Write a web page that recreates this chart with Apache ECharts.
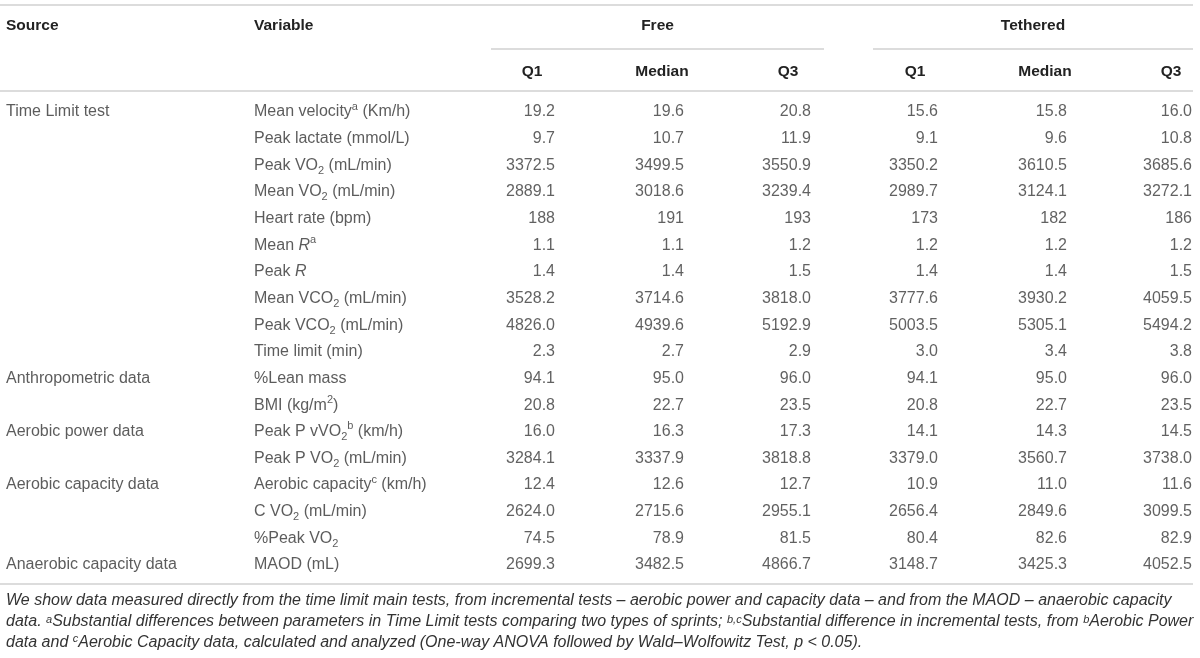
<!DOCTYPE html>
<html>
<head>
<meta charset="utf-8">
<script src="https://cdn.jsdelivr.net/npm/echarts@6/dist/echarts.min.js"></script>
<style>
  html, body { margin: 0; padding: 0; background: #fff; }
  #table { width: 1200px; height: 658px; }
</style>
</head>
<body>
<div id="table"></div>
<script>
const sources = ['Time Limit test', '', '', '', '', '', '', '', '', '',
  'Anthropometric data', '', 'Aerobic power data', '', 'Aerobic capacity data', '', '', 'Anaerobic capacity data'];

const variables = [
  'Mean velocity{sup|a} (Km/h)',
  'Peak lactate (mmol/L)',
  'Peak VO{sub|2} (mL/min)',
  'Mean VO{sub|2} (mL/min)',
  'Heart rate (bpm)',
  'Mean {it|R}{sup|a}',
  'Peak {it|R}',
  'Mean VCO{sub|2} (mL/min)',
  'Peak VCO{sub|2} (mL/min)',
  'Time limit (min)',
  '%Lean mass',
  'BMI (kg/m{sup|2})',
  'Peak P vVO{sub|2}{sup|b} (km/h)',
  'Peak P VO{sub|2} (mL/min)',
  'Aerobic capacity{sup|c} (km/h)',
  'C VO{sub|2} (mL/min)',
  '%Peak VO{sub|2}',
  'MAOD (mL)'
];

const decimals = [1, 1, 1, 1, 0, 1, 1, 1, 1, 1, 1, 1, 1, 1, 1, 1, 1, 1];

const freeQ1 = [19.2, 9.7, 3372.5, 2889.1, 188, 1.1, 1.4, 3528.2, 4826.0, 2.3, 94.1, 20.8, 16.0, 3284.1, 12.4, 2624.0, 74.5, 2699.3];
const freeMedian = [19.6, 10.7, 3499.5, 3018.6, 191, 1.1, 1.4, 3714.6, 4939.6, 2.7, 95.0, 22.7, 16.3, 3337.9, 12.6, 2715.6, 78.9, 3482.5];
const freeQ3 = [20.8, 11.9, 3550.9, 3239.4, 193, 1.2, 1.5, 3818.0, 5192.9, 2.9, 96.0, 23.5, 17.3, 3818.8, 12.7, 2955.1, 81.5, 4866.7];
const tethQ1 = [15.6, 9.1, 3350.2, 2989.7, 173, 1.2, 1.4, 3777.6, 5003.5, 3.0, 94.1, 20.8, 14.1, 3379.0, 10.9, 2656.4, 80.4, 3148.7];
const tethMedian = [15.8, 9.6, 3610.5, 3124.1, 182, 1.2, 1.4, 3930.2, 5305.1, 3.4, 95.0, 22.7, 14.3, 3560.7, 11.0, 2849.6, 82.6, 3425.3];
const tethQ3 = [16.0, 10.8, 3685.6, 3272.1, 186, 1.2, 1.5, 4059.5, 5494.2, 3.8, 96.0, 23.5, 14.5, 3738.0, 11.6, 3099.5, 82.9, 4052.5];

const groupLabels = ['Free', 'Tethered'];
const statLabels = ['Q1', 'Median', 'Q3'];

const footnote = [
  'We show data measured directly from the time limit main tests, from incremental tests – aerobic power and capacity data – and from the MAOD – anaerobic capacity',
  'data. {sup|a}Substantial differences between parameters in Time Limit tests comparing two types of sprints; {sup|b,c}Substantial difference in incremental tests, from {sup|b}Aerobic Power',
  'data and {sup|c}Aerobic Capacity data, calculated and analyzed (One-way ANOVA followed by Wald–Wolfowitz Test, {it|p} < 0.05).'
];

// layout
const font = "'Liberation Sans', Arial, sans-serif";
const textColor = '#333';
const numColor = '#3a3a3a';
const ruleColor = '#dcdcdc';
const sourceX = 6;
const variableX = 254;
const valueRight = [555, 684, 811, 938, 1067, 1192];
const headerCenter = [532, 662, 788, 915, 1045, 1171];
const groupLines = [[491, 824], [873, 1193]];

const chart = echarts.init(document.getElementById('table'), null, { renderer: 'canvas' });

const rich = {
  sup: { fontSize: 11, verticalAlign: 'top', lineHeight: 11, fontFamily: font, color: textColor },
  sub: { fontSize: 11, verticalAlign: 'bottom', lineHeight: 11, fontFamily: font, color: textColor },
  it: { fontStyle: 'italic', fontSize: 16, lineHeight: 22, fontFamily: font, color: textColor }
};

const textSeries = (x, texts, align, color) => ({
  type: 'scatter',
  symbolSize: 0,
  silent: true,
  animation: false,
  data: texts.map((t, i) => ({ value: [x, i], name: String(t) })),
  label: {
    show: true,
    position: align === 'right' ? 'left' : 'right',
    distance: 0,
    formatter: (p) => p.name,
    fontFamily: font,
    fontSize: 16,
    lineHeight: 22,
    color: color,
    rich: rich
  }
});

const valueCols = [freeQ1, freeMedian, freeQ3, tethQ1, tethMedian, tethQ3];

const graphic = [];
// rules
[[0, 1193, 5], [0, 1193, 91], [0, 1193, 584]].forEach(([x1, x2, y]) => {
  graphic.push({ type: 'line', silent: true, shape: { x1, y1: y, x2, y2: y }, style: { stroke: ruleColor, lineWidth: 2 } });
});
groupLines.forEach(([x1, x2]) => {
  graphic.push({ type: 'line', silent: true, shape: { x1, y1: 49, x2, y2: 49 }, style: { stroke: ruleColor, lineWidth: 2 } });
});

const headerText = (text, x, y, align) => ({
  type: 'text', silent: true, x, y,
  style: { text, font: `bold 15.5px ${font}`, fill: '#222', textAlign: align, textVerticalAlign: 'middle' }
});
graphic.push(headerText('Source', sourceX, 26, 'left'));
graphic.push(headerText('Variable', variableX, 26, 'left'));
groupLabels.forEach((g, i) => {
  graphic.push(headerText(g, (groupLines[i][0] + groupLines[i][1]) / 2, 26, 'center'));
});
headerCenter.forEach((x, i) => {
  graphic.push(headerText(statLabels[i % 3], x, 72, 'center'));
});

footnote.forEach((line, i) => {
  graphic.push({
    type: 'text', silent: true, x: 6, y: 601 + i * 21,
    style: {
      text: line,
      font: `italic 16px ${font}`,
      fill: '#333',
      textVerticalAlign: 'middle',
      rich: {
        sup: { fontSize: 11, fontStyle: 'italic', verticalAlign: 'top', lineHeight: 11, fontFamily: font, fill: '#333' },
        it: { fontSize: 16, fontStyle: 'italic', lineHeight: 20, fontFamily: font, fill: '#333' }
      }
    }
  });
});

chart.setOption({
  animation: false,
  grid: { left: 0, right: 0, top: 98.7, bottom: 79.7 },
  xAxis: { type: 'value', min: 0, max: 1200, show: false },
  yAxis: {
    type: 'category',
    inverse: true,
    data: variables.map((_, i) => String(i)),
    show: false
  },
  series: [
    textSeries(sourceX, sources, 'left', textColor),
    textSeries(variableX, variables, 'left', textColor),
    ...valueCols.map((col, c) => textSeries(valueRight[c], col.map((v, i) => v.toFixed(decimals[i])), 'right', numColor))
  ],
  graphic: graphic
});
</script>
</body>
</html>
